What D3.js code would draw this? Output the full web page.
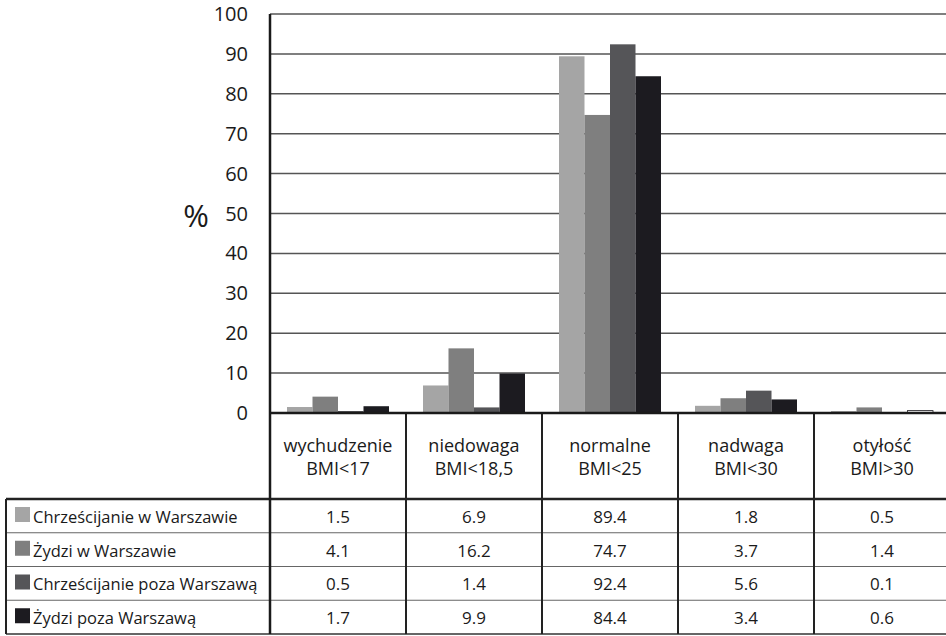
<!DOCTYPE html>
<meta charset="utf-8">
<style>
  body { margin: 0; background: #fff; }
  text { font-family: "Open Sans", sans-serif; fill: #1a1a1a; }
</style>
<body>
<script src="https://d3js.org/d3.v7.min.js"></script>
<script>

    // data
    var categories = ["wychudzenie", "niedowaga", "normalne", "nadwaga", "otyłość"];
    var categoryLimits = ["BMI<17", "BMI<18,5", "BMI<25", "BMI<30", "BMI>30"];
    var seriesNames = ["Chrześcijanie w Warszawie", "Żydzi w Warszawie",
        "Chrześcijanie poza Warszawą", "Żydzi poza Warszawą"];
    var chrzescijanieWarszawa = [1.5, 6.9, 89.4, 1.8, 0.5];
    var zydziWarszawa = [4.1, 16.2, 74.7, 3.7, 1.4];
    var chrzescijaniePoza = [0.5, 1.4, 92.4, 5.6, 0.1];
    var zydziPoza = [1.7, 9.9, 84.4, 3.4, 0.6];
    var yTicks = [0, 10, 20, 30, 40, 50, 60, 70, 80, 90, 100];

    var seriesValues = [chrzescijanieWarszawa, zydziWarszawa, chrzescijaniePoza, zydziPoza];
    var colors = ["#a5a5a5", "#7f7f7f", "#555558", "#1c1b20"];

    var width = 946, height = 636;
    var plotLeft = 270, plotRight = 950, plotTop = 14, plotBase = 413;
    var headerBottom = 499, tableBottom = 634, tableLeft = 6;
    var rowH = (tableBottom - headerBottom) / 4;

    var svg = d3.select("body").append("svg")
        .attr("width", width)
        .attr("height", height);

    var x0 = d3.scaleBand().domain(categories).range([plotLeft, plotRight]);
    var x1 = d3.scaleBand().domain(seriesNames).range([17, x0.bandwidth() - 17]);
    var y = d3.scaleLinear().domain([0, 100]).range([plotBase, plotTop]);

    // gridlines
    svg.append("g").selectAll("line")
        .data(yTicks.filter(function (d) { return d > 0; }))
        .enter().append("line")
        .attr("x1", plotLeft).attr("x2", plotRight)
        .attr("y1", function (d) { return y(d); })
        .attr("y2", function (d) { return y(d); })
        .attr("stroke", "#555")
        .attr("stroke-width", 1.5);

    // tick labels
    svg.append("g").selectAll("text")
        .data(yTicks)
        .enter().append("text")
        .attr("x", 248)
        .attr("y", function (d) { return y(d); })
        .attr("dy", "0.35em")
        .attr("text-anchor", "end")
        .style("font-size", "20px")
        .text(function (d) { return d; });

    svg.append("text")
        .attr("x", 196).attr("y", 216)
        .attr("dy", "0.35em")
        .attr("text-anchor", "middle")
        .style("font-size", "31px")
        .text("%");

    // bars
    var groups = svg.append("g").selectAll("g")
        .data(categories)
        .enter().append("g")
        .attr("transform", function (d) { return "translate(" + x0(d) + ",0)"; });

    groups.selectAll("rect")
        .data(function (c, ci) {
            return seriesNames.map(function (s, si) {
                return {series: s, si: si, ci: ci, value: seriesValues[si][ci]};
            });
        })
        .enter().append("rect")
        .attr("x", function (d) { return x1(d.series); })
        .attr("width", x1.bandwidth())
        .attr("y", function (d) { return y(d.value); })
        .attr("height", function (d) { return y(0) - y(d.value); })
        .attr("fill", function (d) {
            // the last bar is drawn hollow in the original
            return (d.si === 3 && d.ci === 4) ? "#fff" : colors[d.si];
        })
        .attr("stroke", function (d) { return (d.si === 3 && d.ci === 4) ? "#1c1b20" : "none"; })
        .attr("stroke-width", 0.8);

    // table lines
    var lines = svg.append("g");
    // horizontal row lines
    d3.range(1, 4).forEach(function (i) {
        lines.append("line")
            .attr("x1", tableLeft).attr("x2", plotRight)
            .attr("y1", headerBottom + i * rowH).attr("y2", headerBottom + i * rowH)
            .attr("stroke", "#666").attr("stroke-width", 1.2);
    });
    lines.append("line")
        .attr("x1", tableLeft).attr("x2", plotRight)
        .attr("y1", tableBottom).attr("y2", tableBottom)
        .attr("stroke", "#333").attr("stroke-width", 1.5);
    lines.append("line")
        .attr("x1", tableLeft).attr("x2", plotRight)
        .attr("y1", headerBottom).attr("y2", headerBottom)
        .attr("stroke", "#222").attr("stroke-width", 2.5);
    lines.append("line")
        .attr("x1", tableLeft).attr("x2", tableLeft)
        .attr("y1", headerBottom).attr("y2", tableBottom)
        .attr("stroke", "#222").attr("stroke-width", 2);
    // column separators
    lines.selectAll(".col")
        .data(categories.slice(1))
        .enter().append("line")
        .attr("x1", function (d) { return x0(d); })
        .attr("x2", function (d) { return x0(d); })
        .attr("y1", plotBase).attr("y2", tableBottom)
        .attr("stroke", "#222").attr("stroke-width", 2);
    // axes
    lines.append("line")
        .attr("x1", plotLeft).attr("x2", plotLeft)
        .attr("y1", plotTop).attr("y2", tableBottom)
        .attr("stroke", "#1a1a1a").attr("stroke-width", 2.5);
    lines.append("line")
        .attr("x1", plotLeft).attr("x2", plotRight)
        .attr("y1", plotBase).attr("y2", plotBase)
        .attr("stroke", "#1a1a1a").attr("stroke-width", 2.5);

    // header labels, two lines each
    var head = svg.append("g");
    head.selectAll(".cat")
        .data(categories)
        .enter().append("text")
        .attr("class", "cat")
        .attr("x", function (d) { return x0(d) + x0.bandwidth() / 2; })
        .attr("y", 452)
        .attr("text-anchor", "middle")
        .style("font-size", "18px")
        .text(function (d) { return d; });
    head.selectAll(".lim")
        .data(categoryLimits)
        .enter().append("text")
        .attr("class", "lim")
        .attr("x", function (d, i) { return x0(categories[i]) + x0.bandwidth() / 2; })
        .attr("y", 475)
        .attr("text-anchor", "middle")
        .style("font-size", "18px")
        .text(function (d) { return d; });

    // rows
    var rows = svg.append("g").selectAll("g")
        .data(seriesNames)
        .enter().append("g")
        .attr("transform", function (d, i) { return "translate(0," + (headerBottom + i * rowH) + ")"; });

    rows.append("rect")
        .attr("x", 15).attr("y", 8)
        .attr("width", 15).attr("height", 15)
        .attr("fill", function (d, i) { return colors[i]; });

    rows.append("text")
        .attr("x", 33).attr("y", rowH / 2 + 7)
        .style("font-size", "16.5px")
        .text(function (d) { return d; });

    rows.selectAll(".val")
        .data(function (d, i) { return seriesValues[i]; })
        .enter().append("text")
        .attr("class", "val")
        .attr("x", function (d, i) { return x0(categories[i]) + x0.bandwidth() / 2; })
        .attr("y", rowH / 2 + 7)
        .attr("text-anchor", "middle")
        .style("font-size", "17px")
        .text(function (d) { return d; });

</script>
</body>
